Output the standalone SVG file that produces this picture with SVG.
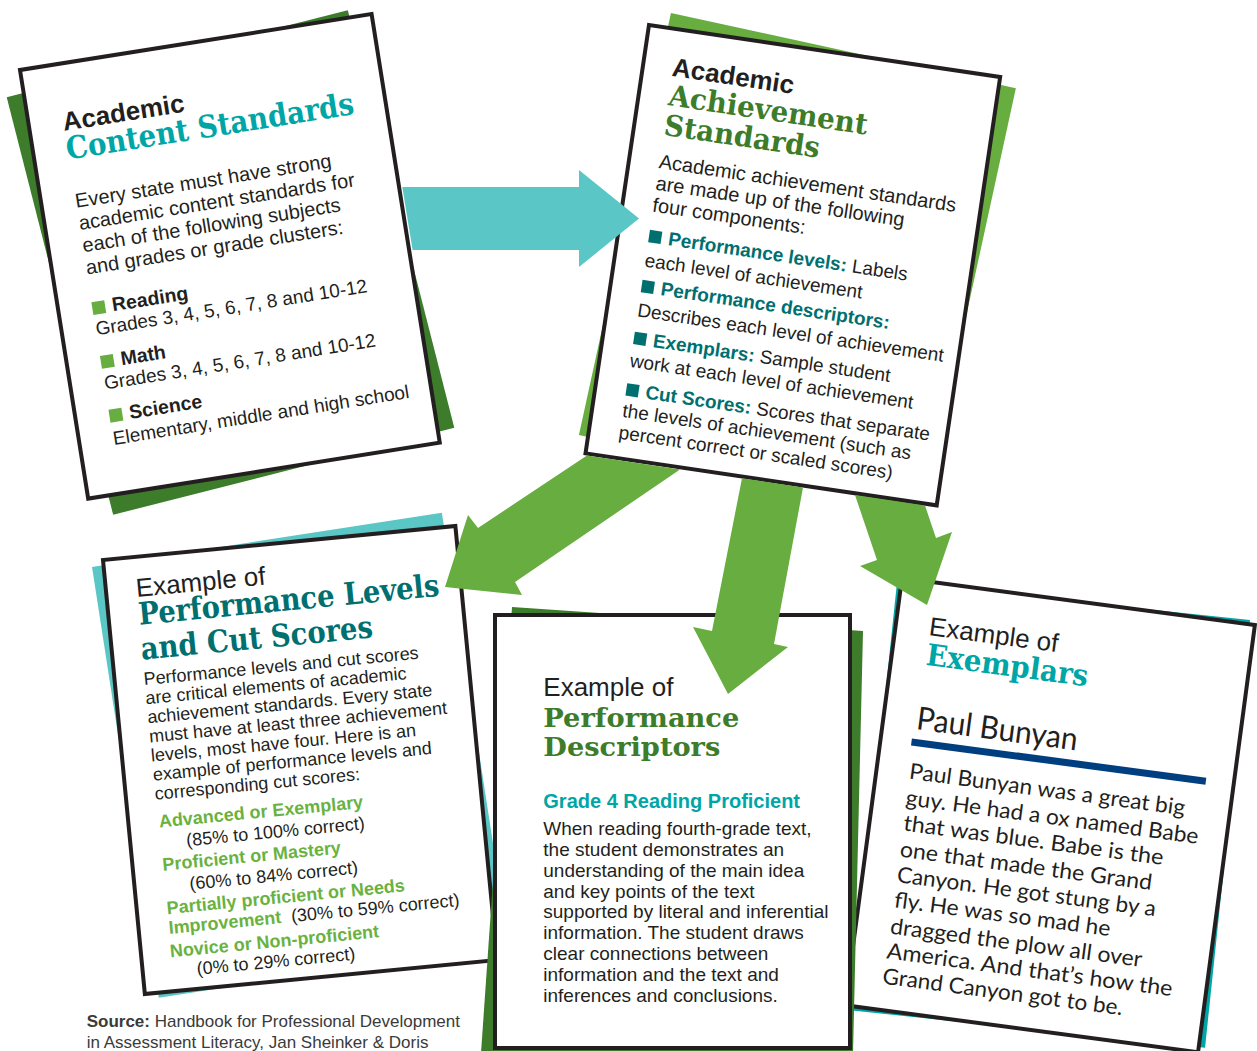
<svg xmlns="http://www.w3.org/2000/svg" width="1257" height="1051" viewBox="0 0 1257 1051">
<defs>
<style>
.card{fill:#fff;stroke:#231f20;stroke-width:4}
.t{font-family:"Liberation Sans",Arial,Helvetica,sans-serif;fill:#231f20}
.b{font-weight:bold}
.slab{font-family:"DejaVu Serif","Liberation Serif",serif;font-weight:bold}
.comic{font-family:Lato,"DejaVu Sans",sans-serif;fill:#231f20}
.dkgreen{fill:#3c7c2a}
.ltgreen{fill:#67ad3f}
.lgtxt{fill:#6ab23f}
.teal{fill:#00a6a6}
.dkteal{fill:#006f70}
.lteal{fill:#5bc6c6}
.src{fill:#3a3a3a}
</style>
</defs>

<g id="node-content-standards">
<rect class="dkgreen" x="-176" y="-215.5" width="352" height="431" transform="translate(230.5 262.5) rotate(-14.3)"/>
<g transform="translate(20 70) rotate(-9.04)">
<rect class="card" width="356" height="434"/>
<text class="t b" x="34" y="67" font-size="26">Academic</text>
<text class="slab teal" x="33" y="96" font-size="31" textLength="291" lengthAdjust="spacingAndGlyphs">Content Standards</text>
<g class="t" font-size="20">
<text x="34" y="145">Every state must have strong</text>
<text x="34" y="167.5">academic content standards for</text>
<text x="34" y="190">each of the following subjects</text>
<text x="34" y="212.5">and grades or grade clusters:</text>
</g>
<g class="ltgreen">
<rect x="34" y="240.5" width="13" height="13"/>
<rect x="34" y="295" width="13" height="13"/>
<rect x="34" y="349.5" width="13" height="13"/>
</g>
<g class="t" font-size="19">
<text class="b" x="54" y="253" font-size="19.5">Reading</text>
<text x="34" y="274">Grades 3, 4, 5, 6, 7, 8 and 10-12</text>
<text class="b" x="54" y="307.5" font-size="19.5">Math</text>
<text x="34" y="329">Grades 3, 4, 5, 6, 7, 8 and 10-12</text>
<text class="b" x="54" y="362" font-size="19.5">Science</text>
<text x="34" y="385">Elementary, middle and high school</text>
</g>
</g>
</g>

<g id="node-achievement-standards">
<rect class="ltgreen" x="-176.5" y="-216" width="353" height="432" transform="translate(797.4 261.6) rotate(12.3)"/>
<g transform="translate(649 25) rotate(8.43)">
<rect class="card" width="355" height="433"/>
<text class="t b" x="29.5" y="47" font-size="26">Academic</text>
<text class="slab dkgreen" x="30" y="76.5" font-size="29" textLength="201" lengthAdjust="spacingAndGlyphs">Achievement</text>
<text class="slab dkgreen" x="30" y="106.5" font-size="29" textLength="157" lengthAdjust="spacingAndGlyphs">Standards</text>
<g class="t" font-size="20">
<text x="30" y="140">Academic achievement standards</text>
<text x="30" y="162">are made up of the following</text>
<text x="30" y="184">four components:</text>
</g>
<g class="dkteal">
<rect x="31" y="202.5" width="12.5" height="12.5"/>
<rect x="31" y="253" width="12.5" height="12.5"/>
<rect x="31" y="305.5" width="12.5" height="12.5"/>
<rect x="31" y="357.5" width="12.5" height="12.5"/>
</g>
<g class="t" font-size="19">
<text x="50.5" y="215"><tspan class="b dkteal">Performance levels:</tspan> Labels</text>
<text x="30.5" y="239.5">each level of achievement</text>
<text x="50.5" y="265.5"><tspan class="b dkteal">Performance descriptors:</tspan></text>
<text x="30.5" y="290">Describes each level of achievement</text>
<text x="50.5" y="318"><tspan class="b dkteal">Exemplars:</tspan> Sample student</text>
<text x="30.5" y="341">work at each level of achievement</text>
<text x="50.5" y="370"><tspan class="b dkteal">Cut Scores:</tspan> Scores that separate</text>
<text x="30.5" y="391.5">the levels of achievement (such as</text>
<text x="30" y="413.5">percent correct or scaled scores)</text>
</g>
</g>
</g>

<g id="node-performance-levels">
<rect class="lteal" x="-177" y="-218" width="354" height="436" transform="translate(300.3 755.3) rotate(-8.8)"/>
<g transform="translate(103 560) rotate(-5.51)">
<rect class="card" width="354" height="436"/>
<text class="t" x="30" y="40" font-size="26">Example of</text>
<text class="slab dkteal" x="30" y="68" font-size="31" textLength="302" lengthAdjust="spacingAndGlyphs">Performance Levels</text>
<text class="slab dkteal" x="29" y="103" font-size="31" textLength="233" lengthAdjust="spacingAndGlyphs">and Cut Scores</text>
<g class="t" font-size="18">
<text x="29" y="128.5">Performance levels and cut scores</text>
<text x="29" y="147.7">are critical elements of academic</text>
<text x="29" y="166.9">achievement standards. Every state</text>
<text x="29" y="186.1">must have at least three achievement</text>
<text x="29" y="205.3">levels, most have four. Here is an</text>
<text x="29" y="224.5">example of performance levels and</text>
<text x="29" y="243.7">corresponding cut scores:</text>
<text x="56" y="293">(85% to 100% correct)</text>
<text x="55" y="336.5">(60% to 84% correct)</text>
<text x="153" y="378.5">(30% to 59% correct)</text>
<text x="54" y="422">(0% to 29% correct)</text>
</g>
<g class="t b lgtxt" font-size="18">
<text x="30.5" y="271.7">Advanced or Exemplary</text>
<text x="30" y="315">Proficient or Mastery</text>
<text x="30" y="358.7">Partially proficient or Needs</text>
<text x="30" y="378.5">Improvement</text>
<text x="29" y="402">Novice or Non-proficient</text>
</g>
</g>
</g>

<g id="node-exemplars">
<rect class="teal" x="-177.5" y="-215" width="355" height="430" transform="translate(1051 815.3) rotate(6)"/>
<g transform="translate(902 578) rotate(7.58)">
<rect class="card" width="356" height="431"/>
<text class="t" x="33.6" y="53" font-size="26">Example of</text>
<text class="slab teal" x="34.5" y="83" font-size="30" textLength="163" lengthAdjust="spacingAndGlyphs">Exemplars</text>
<text class="comic" x="33.4" y="148" font-size="32" textLength="162" lengthAdjust="spacingAndGlyphs">Paul Bunyan</text>
<line x1="31" y1="161.3" x2="328" y2="161.3" stroke="#003f7f" stroke-width="7"/>
<g class="comic" font-size="22">
<text x="33" y="198" textLength="278" lengthAdjust="spacingAndGlyphs">Paul Bunyan was a great big</text>
<text x="33" y="224.5" textLength="295" lengthAdjust="spacingAndGlyphs">guy. He had a ox named Babe</text>
<text x="34" y="250" textLength="262" lengthAdjust="spacingAndGlyphs">that was blue. Babe is the</text>
<text x="34" y="276.5" textLength="254" lengthAdjust="spacingAndGlyphs">one that made the Grand</text>
<text x="34.3" y="302" textLength="261" lengthAdjust="spacingAndGlyphs">Canyon. He got stung by a</text>
<text x="34.9" y="327.5" textLength="218" lengthAdjust="spacingAndGlyphs">fly. He was so mad he</text>
<text x="34.4" y="354" textLength="254" lengthAdjust="spacingAndGlyphs">dragged the plow all over</text>
<text x="34.4" y="379" textLength="288" lengthAdjust="spacingAndGlyphs">America. And that’s how the</text>
<text x="33.5" y="404.5" textLength="242" lengthAdjust="spacingAndGlyphs">Grand Canyon got to be.</text>
</g>
</g>
</g>

<g id="node-performance-descriptors">
<polygon class="dkgreen" points="512,607 863,631 853,1053 481,1053"/>
<rect class="card" x="495" y="615" width="355" height="433"/>
<text class="t" x="543.3" y="696" font-size="26">Example of</text>
<text class="slab dkgreen" x="543.3" y="726.7" font-size="26" textLength="196" lengthAdjust="spacingAndGlyphs">Performance</text>
<text class="slab dkgreen" x="543.3" y="755.7" font-size="26" textLength="177" lengthAdjust="spacingAndGlyphs">Descriptors</text>
<text class="t b teal" x="543.3" y="808.3" font-size="20">Grade 4 Reading Proficient</text>
<g class="t" font-size="19">
<text x="543.3" y="835">When reading fourth-grade text,</text>
<text x="543.3" y="855.8">the student demonstrates an</text>
<text x="543.3" y="876.7">understanding of the main idea</text>
<text x="543.3" y="897.5">and key points of the text</text>
<text x="543.3" y="918.3">supported by literal and inferential</text>
<text x="543.3" y="939.2">information. The student draws</text>
<text x="543.3" y="960">clear connections between</text>
<text x="543.3" y="980.8">information and the text and</text>
<text x="543.3" y="1001.7">inferences and conclusions.</text>
</g>
</g>

<g id="connectors">
<polygon class="lteal" points="402.3,187 579,187 579,170 639,218.5 579,267 579,250 412.6,250"/>
<polygon class="ltgreen" points="587,455.5 478,528 468,515 445,587 522,595 515,582 680,469.5"/>
<polygon class="ltgreen" points="742,478.2 712,631 693,627 728,694 788,647 774,644 803,487.5"/>
<polygon class="ltgreen" points="855,495 877,560 860,566 927,605 952,532 936,538 925,505.5"/>
</g>

<g id="source" class="t src" font-size="17">
<text x="86.7" y="1027"><tspan class="b">Source:</tspan> Handbook for Professional Development</text>
<text x="86.7" y="1047.5">in Assessment Literacy, Jan Sheinker &amp; Doris</text>
</g>
</svg>
